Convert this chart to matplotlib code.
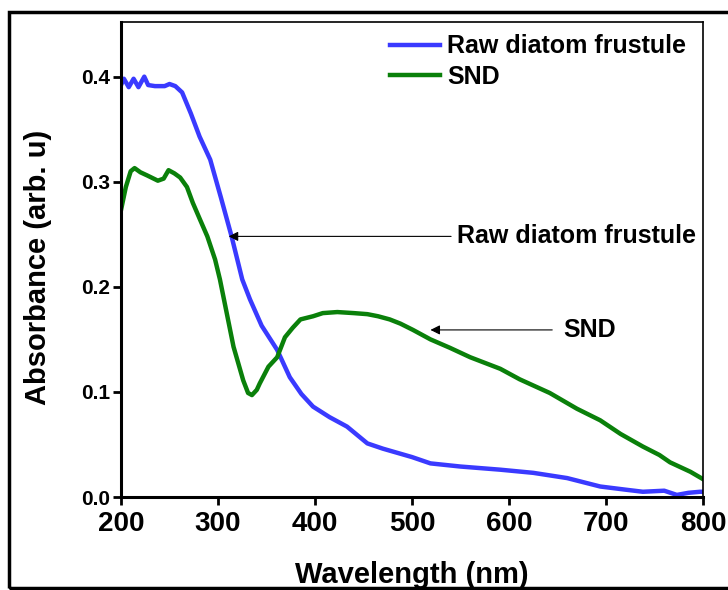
import matplotlib.pyplot as plt
from matplotlib.patches import Rectangle

plt.rcParams['font.family'] = ['Liberation Sans', 'DejaVu Sans']
plt.rcParams['font.weight'] = 'bold'

# Raw diatom frustule spectrum
wl_raw = [200, 203, 208, 213, 218, 224, 228, 235, 245, 250, 256, 263, 272, 281, 292,
          303, 314, 325, 333, 345, 361, 374, 386, 398, 415, 433, 454, 470, 485, 500,
          519, 550, 591, 625, 660, 694, 720, 738, 760, 773, 785, 797, 800]
abs_raw = [0.392, 0.398, 0.390, 0.398, 0.390, 0.400, 0.392, 0.391, 0.391, 0.393, 0.391,
           0.385, 0.365, 0.343, 0.321, 0.285, 0.248, 0.207, 0.188, 0.163, 0.140, 0.114,
           0.098, 0.086, 0.076, 0.067, 0.051, 0.046, 0.042, 0.038, 0.032, 0.029, 0.026,
           0.023, 0.018, 0.010, 0.007, 0.005, 0.006, 0.002, 0.004, 0.005, 0.005]

# SND spectrum
wl_snd = [200, 205, 210, 214, 220, 227, 238, 244, 249, 255, 261, 268, 274, 281, 289,
          297, 302, 309, 316, 326, 331, 335, 340, 343, 352, 361, 369, 377, 385, 398,
          408, 423, 440, 454, 465, 477, 488, 501, 519, 539, 560, 591, 611, 642, 670,
          694, 715, 738, 755, 766, 787, 800]
abs_snd = [0.273, 0.295, 0.310, 0.313, 0.309, 0.306, 0.301, 0.303, 0.311, 0.308, 0.304,
           0.295, 0.280, 0.265, 0.248, 0.226, 0.207, 0.175, 0.143, 0.111, 0.099, 0.097,
           0.102, 0.108, 0.124, 0.133, 0.152, 0.161, 0.169, 0.172, 0.175, 0.176, 0.175,
           0.174, 0.172, 0.169, 0.165, 0.159, 0.150, 0.142, 0.133, 0.122, 0.112, 0.099,
           0.084, 0.073, 0.060, 0.048, 0.040, 0.033, 0.024, 0.017]

fig = plt.figure(figsize=(7.28, 5.9), dpi=100)
ax = fig.add_axes([0.1662, 0.1576, 0.7995, 0.8051])

ax.plot(wl_raw, abs_raw, color='#3a3aff', lw=3.2, label='Raw diatom frustule')
ax.plot(wl_snd, abs_snd, color='#0a800a', lw=3.2, label='SND')

ax.set_xlim(200, 800)
ax.set_ylim(0, 0.452)
ax.set_xticks([200, 300, 400, 500, 600, 700, 800])
ax.set_yticks([0.0, 0.1, 0.2, 0.3, 0.4])
ax.set_yticklabels(['0.0', '0.1', '0.2', '0.3', '0.4'])

for s in ['left', 'bottom']:
    ax.spines[s].set_linewidth(2.2)
for s in ['top', 'right']:
    ax.spines[s].set_linewidth(1.2)
ax.tick_params(axis='both', direction='out', length=6, width=2)
ax.tick_params(axis='x', labelsize=20, pad=4)
ax.tick_params(axis='y', labelsize=15, pad=2)

ax.set_xlabel('Wavelength (nm)', fontsize=21, fontweight='bold', labelpad=17)
ax.set_ylabel('Absorbance (arb. u)', fontsize=21, fontweight='bold')
ax.yaxis.set_label_coords(-0.118, 0.484)

leg = ax.legend(loc='upper left', bbox_to_anchor=(0.445, 0.995), frameon=False,
                fontsize=18, handlelength=2.0, handletextpad=0.3, labelspacing=0.25,
                borderaxespad=0)

ax.annotate('Raw diatom frustule', xy=(311, 0.248), xytext=(546, 0.248),
            fontsize=18, fontweight='bold', va='center', ha='left',
            arrowprops=dict(arrowstyle='-|>', color='black', lw=0.8,
                            mutation_scale=14, shrinkA=2, shrinkB=0))
ax.annotate('SND', xy=(519, 0.159), xytext=(656, 0.159),
            fontsize=18, fontweight='bold', va='center', ha='left',
            arrowprops=dict(arrowstyle='-|>', color='black', lw=0.8,
                            mutation_scale=14, shrinkA=6, shrinkB=0))

# outer frame around the figure
fig.patches.append(Rectangle((9 / 728, 2 / 590), 1.1, 576 / 590,
                             transform=fig.transFigure, fill=False,
                             edgecolor='black', lw=2.5))

fig.savefig('out.png', dpi=100)
